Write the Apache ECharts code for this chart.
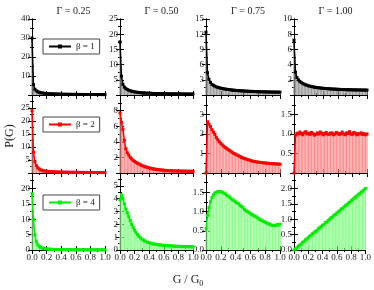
<!DOCTYPE html>
<html><head><meta charset="utf-8">
<script src="https://cdn.jsdelivr.net/npm/echarts@6/dist/echarts.min.js"></script>
<style>html,body{margin:0;padding:0;background:#fff}#c{width:374px;height:290px}</style>
</head><body><div id="c"></div>
<script>
// ---------- data ----------
const gammaLabels = ['Γ = 0.25', 'Γ = 0.50', 'Γ = 0.75', 'Γ = 1.00'];
const betaLabels = ['β = 1', 'β = 2', 'β = 4'];
const xTicks = ['0.0', '0.2', '0.4', '0.6', '0.8', '1.0'];
const binG = [0.00,0.02,0.04,0.06,0.08,0.10,0.12,0.14,0.16,0.18,0.20,0.22,0.24,0.26,0.28,0.30,0.32,0.34,0.36,0.38,0.40,0.42,0.44,0.46,0.48,0.50,0.52,0.54,0.56,0.58,0.60,0.62,0.64,0.66,0.68,0.70,0.72,0.74,0.76,0.78,0.80,0.82,0.84,0.86,0.88,0.90,0.92,0.94,0.96,0.98,1.00];

// beta = 1
const b1g25 = [30,5.5,3.0,2.2,1.7,1.4,1.2,1.05,0.95,0.85,0.78,0.72,0.66,0.62,0.58,0.55,0.52,0.49,0.47,0.45,0.43,0.41,0.4,0.38,0.37,0.36,0.35,0.34,0.33,0.32,0.31,0.31,0.3,0.29,0.29,0.28,0.28,0.27,0.27,0.26,0.26,0.26,0.25,0.25,0.25,0.24,0.24,0.24,0.23,0.23,0.23];
const b1g50 = [17.5,6.2,3.5,2.6,2.1,1.8,1.55,1.4,1.25,1.12,1.02,0.95,0.88,0.82,0.77,0.72,0.68,0.65,0.62,0.59,0.57,0.55,0.53,0.51,0.49,0.48,0.46,0.45,0.44,0.43,0.42,0.41,0.4,0.39,0.38,0.38,0.37,0.36,0.36,0.35,0.35,0.34,0.34,0.33,0.33,0.32,0.32,0.32,0.31,0.31,0.31];
const b1g75 = [12.4,4.4,3.1,2.5,2.1,1.9,1.75,1.6,1.5,1.42,1.35,1.28,1.22,1.17,1.12,1.08,1.04,1.0,0.97,0.94,0.91,0.88,0.86,0.84,0.82,0.8,0.78,0.76,0.75,0.73,0.72,0.71,0.7,0.68,0.67,0.66,0.65,0.64,0.63,0.63,0.62,0.61,0.6,0.6,0.59,0.58,0.58,0.57,0.57,0.56,0.56];
const b1g100 = [7.2,3.0,2.3,2.0,1.8,1.65,1.52,1.42,1.34,1.27,1.21,1.16,1.11,1.07,1.03,1.0,0.97,0.95,0.92,0.9,0.88,0.86,0.85,0.83,0.82,0.8,0.79,0.78,0.77,0.76,0.75,0.74,0.73,0.72,0.72,0.71,0.7,0.7,0.69,0.69,0.68,0.68,0.67,0.67,0.66,0.66,0.66,0.65,0.65,0.65,0.65];
// beta = 2
const b2g25 = [24,8,4.3,2.8,2.0,1.5,1.2,1.0,0.85,0.75,0.66,0.6,0.55,0.5,0.47,0.44,0.41,0.39,0.37,0.35,0.34,0.32,0.31,0.3,0.29,0.28,0.27,0.26,0.26,0.25,0.24,0.24,0.23,0.23,0.22,0.22,0.21,0.21,0.21,0.2,0.2,0.2,0.19,0.19,0.19,0.19,0.18,0.18,0.18,0.18,0.18];
const b2g50 = [7.7,6.5,5.6,4.2,3.1,2.6,2.3,2.0,1.8,1.62,1.48,1.36,1.25,1.15,1.05,0.97,0.89,0.82,0.76,0.7,0.65,0.6,0.56,0.52,0.49,0.46,0.43,0.41,0.39,0.37,0.35,0.34,0.32,0.31,0.3,0.29,0.28,0.27,0.26,0.26,0.25,0.25,0.24,0.24,0.23,0.23,0.22,0.22,0.22,0.21,0.21];
const b2g75 = [0.0,2.63,2.5,2.38,2.22,2.1,1.98,1.82,1.7,1.6,1.52,1.44,1.37,1.31,1.25,1.2,1.15,1.09,1.04,1.0,0.96,0.92,0.88,0.85,0.8,0.77,0.74,0.72,0.69,0.67,0.64,0.62,0.6,0.59,0.57,0.56,0.55,0.54,0.53,0.52,0.51,0.5,0.5,0.49,0.48,0.48,0.47,0.47,0.46,0.46,0.45];
const b2g100 = [0.0,0.97,1.02,1.0,1.05,1.01,0.98,1.03,1.06,1.0,1.02,0.99,1.04,1.01,0.97,0.99,1.03,1.0,1.05,1.02,0.98,1.01,1.04,1.0,0.99,1.02,1.03,0.98,1.0,1.04,1.02,0.99,1.01,1.05,1.0,0.98,1.03,1.01,1.06,1.0,0.99,1.04,1.02,0.98,1.01,1.0,1.03,0.99,1.01,0.98,1.0];
// beta = 4
const b4g25 = [18.3,9.8,4.9,2.7,1.7,1.15,0.85,0.65,0.5,0.42,0.35,0.3,0.26,0.23,0.2,0.18,0.16,0.15,0.14,0.13,0.12,0.11,0.11,0.1,0.1,0.09,0.09,0.09,0.08,0.08,0.08,0.08,0.07,0.07,0.07,0.07,0.07,0.06,0.06,0.06,0.06,0.06,0.06,0.06,0.05,0.05,0.05,0.05,0.05,0.05,0.05];
const b4g50 = [3.9,4.3,4.0,3.6,3.2,2.9,2.6,2.3,2.0,1.75,1.55,1.35,1.2,1.05,0.95,0.85,0.77,0.7,0.64,0.6,0.56,0.52,0.5,0.47,0.45,0.43,0.41,0.4,0.39,0.37,0.36,0.35,0.34,0.33,0.33,0.32,0.31,0.3,0.3,0.29,0.29,0.28,0.28,0.27,0.27,0.26,0.26,0.26,0.25,0.25,0.25];
const b4g75 = [0.55,0.9,1.1,1.25,1.36,1.43,1.48,1.5,1.52,1.51,1.52,1.5,1.48,1.46,1.42,1.4,1.37,1.33,1.3,1.28,1.25,1.22,1.2,1.16,1.13,1.1,1.05,1.02,1.0,0.97,0.95,0.92,0.9,0.88,0.86,0.83,0.8,0.78,0.76,0.74,0.72,0.7,0.69,0.67,0.65,0.64,0.63,0.64,0.66,0.65,0.67];
const b4g100 = [0.0,0.03,0.07,0.12,0.16,0.19,0.25,0.27,0.33,0.36,0.4,0.45,0.48,0.53,0.56,0.6,0.63,0.69,0.72,0.76,0.8,0.83,0.89,0.91,0.96,1.0,1.05,1.07,1.13,1.15,1.2,1.24,1.27,1.33,1.35,1.4,1.44,1.47,1.52,1.55,1.6,1.63,1.68,1.72,1.75,1.8,1.83,1.88,1.91,1.95,2.0];

const panels = [[b1g25,b1g50,b1g75,b1g100],[b2g25,b2g50,b2g75,b2g100],[b4g25,b4g50,b4g75,b4g100]];
const yMax = [[40,25,15,10],[30,10,4,2],[25,6,2,2.5]];
const yStep = [[10,5,3,2],[5,2,1,0.5],[5,1,0.5,0.5]];

// ---------- style ----------
const colLeft = [32, 120, 206, 294];
const colWidth = [73, 73, 74, 73];
const rowTop = [19, 95, 173];
const rowHeight = [76, 78, 77];
const lineColor = ['#000000', '#ff0000', '#00ee00'];
const fillColor = ['#9a9a9a', '#ff8c8c', '#8cff8c'];
const FONT = '"Liberation Serif", "DejaVu Serif", serif';

const grid = [], xAxis = [], yAxis = [], series = [];
let k = 0;
for (let r = 0; r < 3; r++) {
  for (let c = 0; c < 4; c++) {
    grid.push({left: colLeft[c], top: rowTop[r], width: colWidth[c], height: rowHeight[r]});
    const tickCommon = {
      axisLine: {show: true, lineStyle: {color: '#000', width: 1}},
      axisTick: {show: true, inside: true, length: 4, lineStyle: {color: '#000', width: 1}},
      minorTick: {show: true, splitNumber: 2, length: 2, lineStyle: {color: '#000', width: 1}},
      splitLine: {show: false}
    };
    const showX = r === 2;
    xAxis.push(Object.assign({
      type: 'value', gridIndex: k, min: 0, max: 1, interval: 0.2, position: 'bottom',
      axisLabel: {show: showX, fontFamily: FONT, fontSize: 9, color: '#222', margin: 3,
        formatter: v => xTicks[Math.round(v / 0.2)]}
    }, tickCommon));
    xAxis.push(Object.assign({
      type: 'value', gridIndex: k, min: 0, max: 1, interval: 0.2, position: 'top',
      axisLabel: {show: false}
    }, tickCommon));
    const mx = yMax[r][c], st = yStep[r][c];
    const dec = st < 1;
    const hideZero = r < 2, hideMax = r > 0;
    yAxis.push(Object.assign({
      type: 'value', gridIndex: k, min: 0, max: mx, interval: st, position: 'left',
      axisLabel: {show: true, fontFamily: FONT, fontSize: 9, color: '#222', margin: 2,
        formatter: v => {
          if (hideZero && Math.abs(v) < 1e-9) return '';
          if (hideMax && Math.abs(v - mx) < 1e-9) return '';
          return dec ? v.toFixed(1) : String(Math.round(v));
        }}
    }, tickCommon));
    yAxis.push(Object.assign({
      type: 'value', gridIndex: k, min: 0, max: mx, interval: st, position: 'right',
      axisLabel: {show: false}
    }, tickCommon));
    const vals = panels[r][c];
    const data = binG.map((g, i) => [g, vals[i]]);
    series.push({
      type: 'bar', name: 'hist' + k, xAxisIndex: 2 * k, yAxisIndex: 2 * k, data: data,
      barWidth: 1.2, itemStyle: {color: fillColor[r]}, silent: true, clip: true
    });
    series.push({
      type: 'line', name: betaLabels[r], xAxisIndex: 2 * k, yAxisIndex: 2 * k, data: data,
      symbol: 'rect', symbolSize: 3, showSymbol: true,
      lineStyle: {color: lineColor[r], width: 1.5}, itemStyle: {color: lineColor[r]},
      clip: true, z: 3
    });
    k++;
  }
}

const legendTop = [39, 117, 195];
const legend = betaLabels.map((b, r) => ({
  data: [b], left: 43, top: legendTop[r], orient: 'horizontal',
  borderColor: '#444', borderWidth: 1, padding: [3, 5, 3, 5],
  itemWidth: 22, itemHeight: 5, itemGap: 4, selectedMode: false,
  textStyle: {fontFamily: FONT, fontSize: 9, color: '#222'}
}));

const title = gammaLabels.map((g, c) => ({
  text: g, left: colLeft[c] + colWidth[c] / 2, top: 1, textAlign: 'center',
  textStyle: {fontFamily: FONT, fontSize: 10, fontWeight: 'normal', color: '#222'}
}));

const chart = echarts.init(document.getElementById('c'), null, {renderer: 'canvas'});
chart.setOption({
  animation: false,
  backgroundColor: '#fff',
  title: title,
  legend: legend,
  grid: grid, xAxis: xAxis, yAxis: yAxis, series: series,
  graphic: [
    {type: 'text', x: 10, y: 136, rotation: Math.PI / 2,
      style: {text: 'P(G)', font: '12px ' + FONT, fill: '#222', textAlign: 'center', textVerticalAlign: 'middle'}},
    {type: 'text', x: 188, y: 280,
      style: {text: 'G / G{s|0}', font: '12px ' + FONT, fill: '#222', textAlign: 'center', textVerticalAlign: 'middle',
        rich: {s: {fontSize: 8, fontFamily: FONT, fill: '#222', padding: [7, 0, 0, 0]}}}}
  ]
});
</script></body></html>
